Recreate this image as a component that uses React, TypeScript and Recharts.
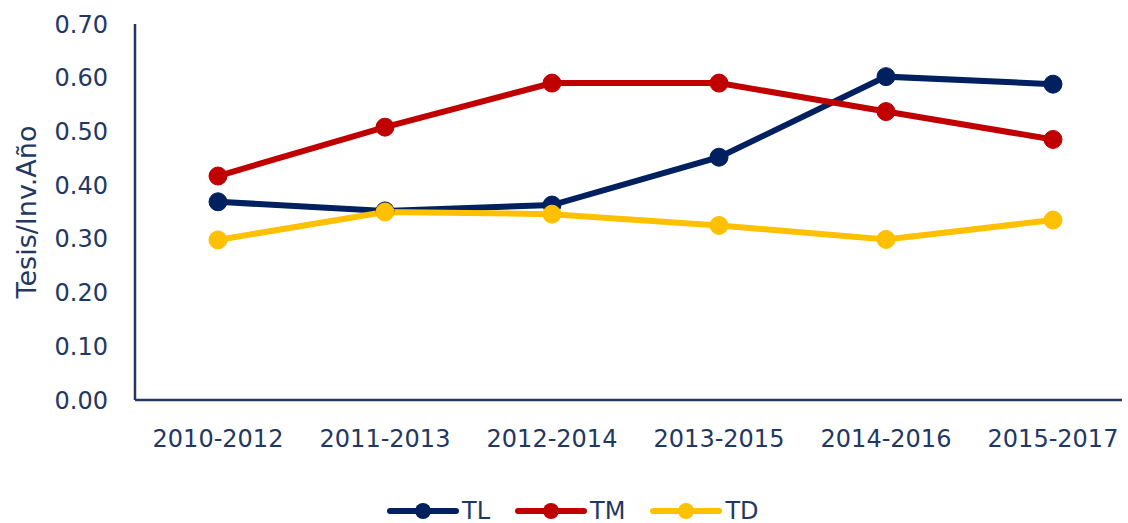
import React from "react";
import { LineChart, Line, XAxis, YAxis, Legend } from "recharts";

const categories = ["2010-2012", "2011-2013", "2012-2014", "2013-2015", "2014-2016", "2015-2017"];
const tlValues = [0.369, 0.352, 0.363, 0.452, 0.602, 0.588];
const tmValues = [0.417, 0.508, 0.59, 0.59, 0.537, 0.485];
const tdValues = [0.298, 0.35, 0.346, 0.325, 0.299, 0.335];
const yTicks = [0, 0.1, 0.2, 0.3, 0.4, 0.5, 0.6, 0.7];

const series = [
  { key: "TL", color: "#002060", values: tlValues },
  { key: "TM", color: "#C00000", values: tmValues },
  { key: "TD", color: "#FFC000", values: tdValues },
];

const data = categories.map((c, i) => {
  const row: Record<string, string | number> = { cat: c };
  series.forEach((s) => (row[s.key] = s.values[i]));
  return row;
});

const TEXT = "#1F3864";
const FONT = "'DejaVu Sans', sans-serif";

const LegendContent = () => (
  <div style={{ display: "flex", alignItems: "center", paddingLeft: 387, fontFamily: FONT, fontSize: 24, color: TEXT }}>
    {series.map((s) => (
      <div key={s.key} style={{ display: "flex", alignItems: "center", marginRight: 25 }}>
        <svg width={72} height={24} style={{ display: "block" }}>
          <line x1={3} y1={12} x2={69} y2={12} stroke={s.color} strokeWidth={6} strokeLinecap="round" />
          <circle cx={36} cy={12} r={8} fill={s.color} />
        </svg>
        <span style={{ marginLeft: 3, lineHeight: "28px" }}>{s.key}</span>
      </div>
    ))}
  </div>
);

const YLabel = (props: any) => {
  const vb = props.viewBox || {};
  const x = 26;
  const y = (vb.y ?? 24) + (vb.height ?? 376) / 2;
  return (
    <text
      x={x}
      y={y}
      transform={`rotate(-90, ${x}, ${y})`}
      textAnchor="middle"
      dominantBaseline="central"
      fill={TEXT}
      fontFamily={FONT}
      fontSize={27}
    >
      Tesis/Inv.Año
    </text>
  );
};

export default function App() {
  return (
    <div style={{ position: "absolute", left: 0, top: 0, width: 1128, height: 523, background: "#fff" }}>
      <LineChart width={1128} height={523} data={data} margin={{ top: 24, right: 6, bottom: 15, left: 0 }}>
        <XAxis
          dataKey="cat"
          type="category"
          scale="point"
          padding={{ left: 83, right: 69 }}
          height={80}
          axisLine={{ stroke: TEXT, strokeWidth: 2.5 }}
          tickLine={false}
          tickSize={0}
          tickMargin={30}
          tick={{ fill: TEXT, fontFamily: FONT, fontSize: 24 }}
          interval={0}
        />
        <YAxis
          width={135}
          domain={[0, 0.7]}
          ticks={yTicks}
          type="number"
          tickFormatter={(v: number) => v.toFixed(2)}
          axisLine={{ stroke: TEXT, strokeWidth: 2.5 }}
          tickLine={false}
          tickSize={0}
          tickMargin={27}
          tick={{ fill: TEXT, fontFamily: FONT, fontSize: 24 }}
          label={<YLabel />}
        />
        <Legend
          verticalAlign="bottom"
          content={<LegendContent />}
          wrapperStyle={{ position: "absolute", left: 0, top: 497, width: 1128, height: 28, bottom: "auto" }}
        />
        {series.map((s) => (
          <Line
            key={s.key}
            dataKey={s.key}
            name={s.key}
            stroke={s.color}
            strokeWidth={6}
            dot={{ r: 9, fill: s.color, stroke: s.color, strokeWidth: 1 }}
            activeDot={false}
            isAnimationActive={false}
          />
        ))}
      </LineChart>
    </div>
  );
}
